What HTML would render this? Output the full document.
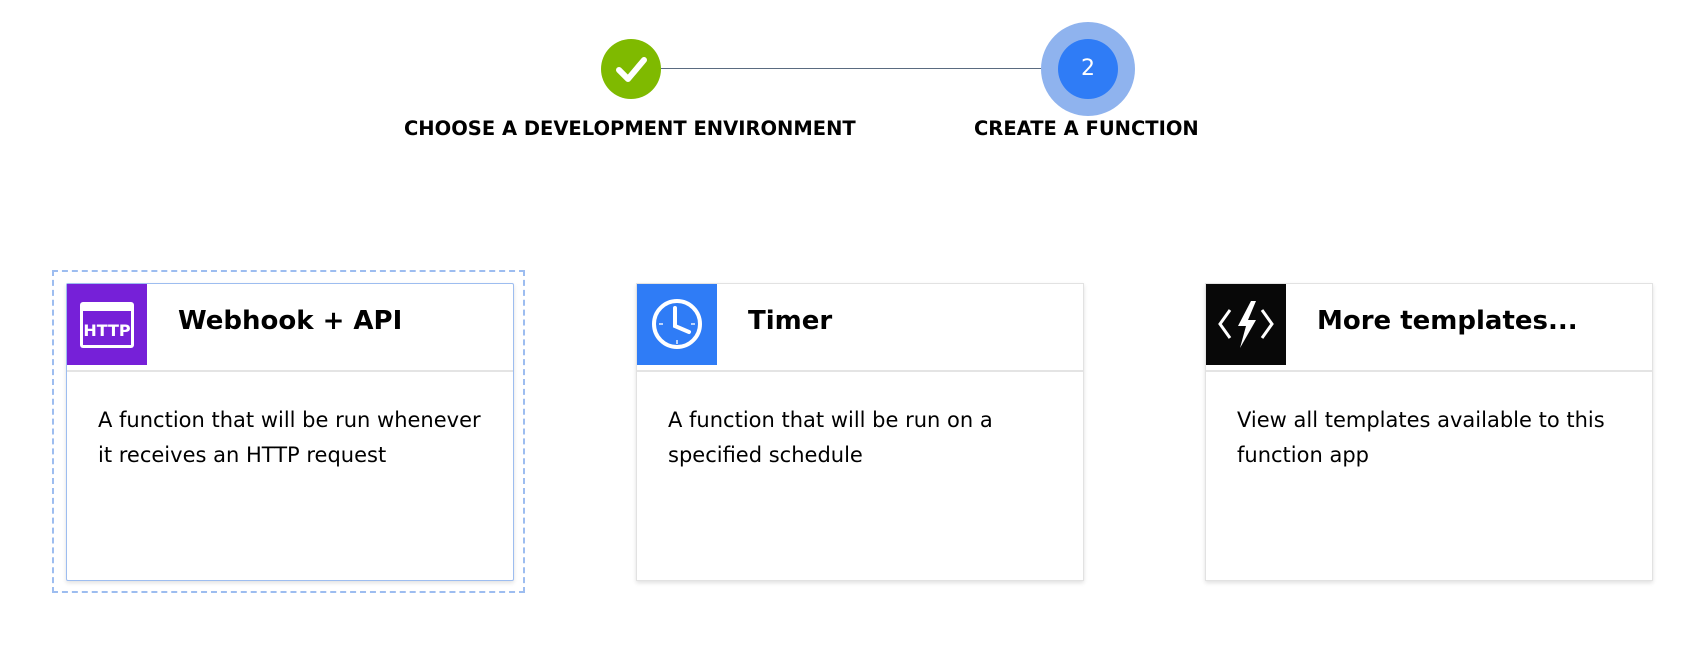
<!DOCTYPE html>
<html><head><meta charset="utf-8"><style>
body{margin:0;width:1692px;height:654px;background:#fff;position:relative;overflow:hidden;font-family:"DejaVu Sans","Liberation Sans",sans-serif;color:#000}
.abs{position:absolute}
.lbl{font-weight:bold;font-size:19.5px;white-space:nowrap;top:117px}
.card{position:absolute;top:283px;width:446px;height:296px;background:#fff;border:1px solid #e2e2e2;box-shadow:0 2px 4px rgba(0,0,0,.12)}
.icon{position:absolute;left:0;top:0;width:80px;height:81px}
.hdr{position:absolute;left:0;top:86px;width:100%;height:2px;background:#e4e4e4}
.title{position:absolute;left:111px;top:22px;font-size:26px;font-weight:bold;white-space:nowrap}
.desc{position:absolute;left:31px;top:119px;font-size:21px;line-height:35px;width:400px}
</style></head><body>
<div class="abs" style="left:661px;top:68px;width:400px;height:1px;background:#5a6b80"></div>
<div class="abs" style="left:601px;top:39px;width:60px;height:60px;border-radius:50%;background:#7fba00"></div>
<svg class="abs" style="left:601px;top:39px" width="60" height="60"><path d="M18 31 L27 40 L43 21" stroke="#fff" stroke-width="6" fill="none" stroke-linecap="round" stroke-linejoin="round"/></svg>
<div class="abs" style="left:1041px;top:22px;width:94px;height:94px;border-radius:50%;background:#8fb3ee"></div>
<div class="abs" style="left:1058px;top:39px;width:60px;height:60px;border-radius:50%;background:#2f7cf6;color:#fff;font-size:22px;line-height:60px;text-align:center">2</div>
<div class="abs lbl" style="left:404px">CHOOSE A DEVELOPMENT ENVIRONMENT</div>
<div class="abs lbl" style="left:974px">CREATE A FUNCTION</div>

<div class="abs" style="left:52px;top:270px;width:469px;height:319px;border:2px dashed #9dbdf0"></div>
<div class="card" style="left:66px;border-color:#9dbdf0;border-radius:2px">
 <div class="icon" style="background:#7620d8">
  <svg width="80" height="81"><rect x="13" y="18" width="54" height="46" rx="3" fill="#fff"/><rect x="16" y="27" width="48" height="34" fill="#7620d8"/><text x="40" y="52" font-family="DejaVu Sans" font-weight="bold" font-size="16" fill="#fff" text-anchor="middle">HTTP</text></svg>
 </div>
 <div class="hdr"></div>
 <div class="title">Webhook + API</div>
 <div class="desc" style="width:395px">A function that will be run whenever it receives an HTTP request</div>
</div>
<div class="card" style="left:636px">
 <div class="icon" style="background:#2f7cf6">
  <svg width="80" height="81"><circle cx="40" cy="40" r="23" stroke="#fff" stroke-width="4" fill="none"/><path d="M38 24 V42 L52 48" stroke="#fff" stroke-width="4" fill="none" stroke-linecap="round"/><g stroke="#bcd4fb" stroke-width="2"><line x1="22" y1="40" x2="26" y2="40"/><line x1="54" y1="40" x2="58" y2="40"/><line x1="40" y1="56" x2="40" y2="60"/></g></svg>
 </div>
 <div class="hdr"></div>
 <div class="title">Timer</div>
 <div class="desc">A function that will be run on a specified schedule</div>
</div>
<div class="card" style="left:1205px">
 <div class="icon" style="background:#080808">
  <svg width="80" height="81"><path d="M24 26 L14 40 L24 54 M56 26 L66 40 L56 54" stroke="#fff" stroke-width="3" fill="none"/><path d="M45 17 L32 42 L40 42 L34 64 L50 36 L42 36 L50 17 Z" fill="#fff"/></svg>
 </div>
 <div class="hdr"></div>
 <div class="title">More templates...</div>
 <div class="desc">View all templates available to this function app</div>
</div>
</body></html>
